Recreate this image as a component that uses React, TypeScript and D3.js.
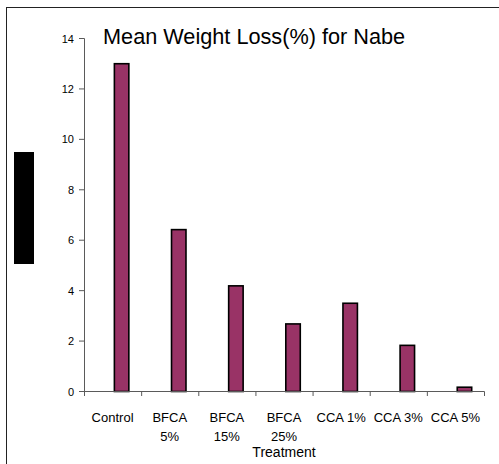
import React from "react";
import * as d3 from "d3";

const categories = ["Control", "BFCA 5%", "BFCA 15%", "BFCA 25%", "CCA 1%", "CCA 3%", "CCA 5%"];
const tickLabelLines = [["Control"], ["BFCA", "5%"], ["BFCA", "15%"], ["BFCA", "25%"], ["CCA 1%"], ["CCA 3%"], ["CCA 5%"]];
const meanLoss = [13.0, 6.42, 4.19, 2.68, 3.5, 1.83, 0.17];
const yTicks = [0, 2, 4, 6, 8, 10, 12, 14];
const seriesSlots = ["blank", "meanLoss"];
const title = "Mean Weight Loss(%) for Nabe";
const xTitle = "Treatment";

const W = 499;
const H = 464;
const FONT = "'Liberation Sans', Arial, sans-serif";

export default function App() {
  const x0 = d3.scaleBand<string>().domain(categories).range([84, 484]).paddingInner(0).paddingOuter(0);
  const x1 = d3.scaleBand<string>().domain(seriesSlots).range([0, x0.bandwidth()]).paddingInner(0.2).paddingOuter(0.68);
  const y = d3.scaleLinear().domain([0, 14]).range([391.5, 38.5]);
  const axisColor = "#5a5a5a";
  const boundaries = categories.map((c) => x0(c) as number).concat([x0.range()[1]]);

  return (
    <svg width={W} height={H} style={{ position: "absolute", left: 0, top: 0, background: "#fff" }} fontFamily={FONT}>
      <rect x={0} y={0} width={W} height={H} fill="#fff" />
      <rect x={6.5} y={7.5} width={W + 10} height={H + 10} fill="none" stroke="#222" strokeWidth={1} />
      <rect x={14} y={152} width={20} height={112} fill="#000" />
      <text x={103} y={44} fontSize={21.7} fill="#000">{title}</text>

      {categories.map((c, i) => {
        const bx = (x0(c) as number) + (x1("meanLoss") as number);
        const top = y(meanLoss[i]);
        return (
          <rect key={c} x={bx} y={top} width={x1.bandwidth()} height={y(0) - top}
            fill="#993366" stroke="#000" strokeWidth={1.6} />
        );
      })}

      <line x1={84.5} x2={84.5} y1={y(14)} y2={y(0)} stroke={axisColor} strokeWidth={1} />
      {yTicks.map((t) => (
        <g key={t}>
          <line x1={79} x2={84.5} y1={y(t)} y2={y(t)} stroke={axisColor} strokeWidth={1} />
          <text x={74} y={y(t) + 4} textAnchor="end" fontSize={11} fill="#000">{t}</text>
        </g>
      ))}

      <line x1={84} x2={484.5} y1={y(0)} y2={y(0)} stroke={axisColor} strokeWidth={1} />
      {boundaries.map((bx, i) => (
        <line key={i} x1={bx + 0.5} x2={bx + 0.5} y1={y(0)} y2={y(0) + 4.5} stroke={axisColor} strokeWidth={1} />
      ))}
      {categories.map((c, i) => {
        const cx = (x0(c) as number) + x0.bandwidth() / 2;
        return (
          <text key={c} textAnchor="middle" fontSize={13} fill="#000">
            {tickLabelLines[i].map((ln, j) => (
              <tspan key={j} x={cx} y={421.5 + j * 19.5}>{ln}</tspan>
            ))}
          </text>
        );
      })}
      <text x={284} y={456.5} textAnchor="middle" fontSize={14} fill="#000">{xTitle}</text>
    </svg>
  );
}
